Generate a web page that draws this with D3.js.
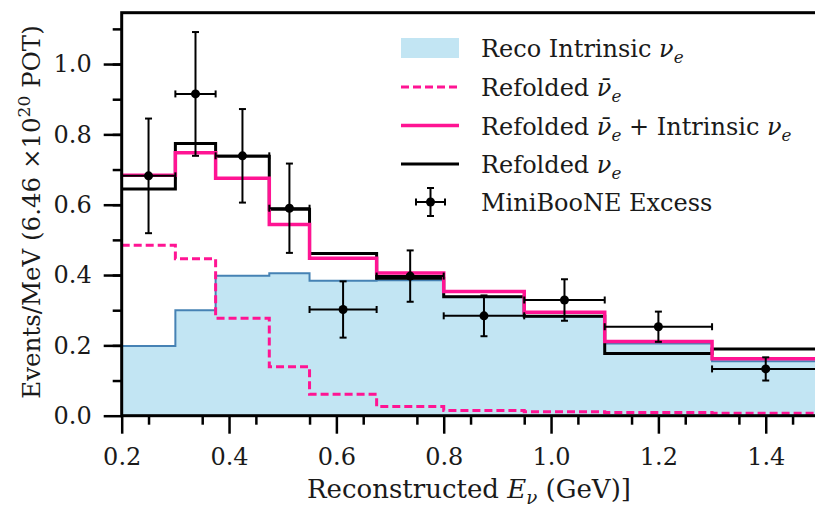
<!DOCTYPE html>
<html>
<head>
<meta charset="utf-8">
<script src="https://cdn.jsdelivr.net/npm/d3@7"></script>
<style>
body { margin: 0; background: #fff; }
svg { display: block; font-family: "DejaVu Serif", serif; }
</style>
</head>
<body>
<svg id="chart" width="815" height="511"></svg>
<script>
// bin edges in GeV (MiniBooNE binning)
var binEdges = [0.2, 0.3, 0.375, 0.475, 0.55, 0.675, 0.8, 0.95, 1.1, 1.3, 1.5];
var recoIntrinsic = [0.198, 0.300, 0.398, 0.405, 0.384, 0.385, 0.338, 0.282, 0.205, 0.155];
var refoldedNuebar = [0.485, 0.446, 0.277, 0.139, 0.061, 0.026, 0.015, 0.011, 0.009, 0.007];
var refoldedSum = [0.684, 0.748, 0.675, 0.544, 0.448, 0.406, 0.353, 0.294, 0.211, 0.162];
var refoldedNue = [0.645, 0.774, 0.738, 0.587, 0.461, 0.391, 0.338, 0.283, 0.177, 0.190];
var excessX = [0.25, 0.3375, 0.425, 0.5125, 0.6125, 0.7375, 0.875, 1.025, 1.2, 1.4];
var excessY = [0.682, 0.915, 0.739, 0.590, 0.302, 0.397, 0.284, 0.329, 0.253, 0.133];
var excessErr = [0.163, 0.176, 0.133, 0.127, 0.080, 0.073, 0.058, 0.059, 0.043, 0.033];
var xTicks = [0.2, 0.4, 0.6, 0.8, 1.0, 1.2, 1.4];
var yTicks = [0.0, 0.2, 0.4, 0.6, 0.8, 1.0];

var PINK = "#ff1493";
var FILL = "#c2e5f3";
var BLUE = "#4682b4";

var svg = d3.select("#chart");

var x = d3.scaleLinear().domain([0.2, 1.5]).range([121.7, 819.4]);
var y = d3.scaleLinear().domain([0, 1.146]).range([415.7, 12.7]);

// histogram helper: step points incl. closing edge
function steps(vals) {
    var pts = vals.map(function(v, i) { return [binEdges[i], v]; });
    pts.push([binEdges[binEdges.length - 1], vals[vals.length - 1]]);
    return pts;
}

var stepLine = d3.line()
    .x(function(d) { return x(d[0]); })
    .y(function(d) { return y(d[1]); })
    .curve(d3.curveStepAfter);

var stepArea = d3.area()
    .x(function(d) { return x(d[0]); })
    .y0(y(0))
    .y1(function(d) { return y(d[1]); })
    .curve(d3.curveStepAfter);

svg.append("path").attr("d", stepArea(steps(recoIntrinsic))).attr("fill", FILL);
svg.append("path").attr("d", stepLine(steps(recoIntrinsic)))
    .attr("fill", "none").attr("stroke", BLUE).attr("stroke-width", 2);
svg.append("path").attr("d", stepLine(steps(refoldedNuebar)))
    .attr("fill", "none").attr("stroke", PINK).attr("stroke-width", 3)
    .attr("stroke-dasharray", "8,4");
svg.append("path").attr("d", stepLine(steps(refoldedNue)))
    .attr("fill", "none").attr("stroke", "#000").attr("stroke-width", 3);
svg.append("path").attr("d", stepLine(steps(refoldedSum)))
    .attr("fill", "none").attr("stroke", PINK).attr("stroke-width", 3.5);

// data points with error bars
var pts = svg.append("g").attr("stroke", "#000").attr("stroke-width", 2);
excessX.forEach(function(xv, i) {
    var lo = binEdges[i], hi = binEdges[i + 1];
    var yv = excessY[i], e = excessErr[i];
    pts.append("line").attr("x1", x(lo)).attr("x2", x(hi)).attr("y1", y(yv)).attr("y2", y(yv));
    pts.append("line").attr("x1", x(lo)).attr("x2", x(lo)).attr("y1", y(yv) - 3.5).attr("y2", y(yv) + 3.5);
    pts.append("line").attr("x1", x(hi)).attr("x2", x(hi)).attr("y1", y(yv) - 3.5).attr("y2", y(yv) + 3.5);
    pts.append("line").attr("x1", x(xv)).attr("x2", x(xv)).attr("y1", y(yv - e)).attr("y2", y(yv + e));
    pts.append("line").attr("x1", x(xv) - 3.5).attr("x2", x(xv) + 3.5).attr("y1", y(yv - e)).attr("y2", y(yv - e));
    pts.append("line").attr("x1", x(xv) - 3.5).attr("x2", x(xv) + 3.5).attr("y1", y(yv + e)).attr("y2", y(yv + e));
    pts.append("circle").attr("cx", x(xv)).attr("cy", y(yv)).attr("r", 4.5).attr("fill", "#000").attr("stroke", "none");
});

// axes
var fmt = d3.format(".1f");
var xMajor = svg.append("g").attr("transform", "translate(0," + y(0) + ")")
    .call(d3.axisBottom(x).tickValues(xTicks).tickSize(18).tickPadding(14).tickFormat(fmt));
var xMinor = svg.append("g").attr("transform", "translate(0," + y(0) + ")")
    .call(d3.axisBottom(x).tickValues(d3.range(0.25, 1.5, 0.1)).tickSize(9).tickFormat(""));
var yMajor = svg.append("g").attr("transform", "translate(" + x(0.2) + ",0)")
    .call(d3.axisLeft(y).tickValues(yTicks).tickSize(18).tickPadding(12).tickFormat(fmt));
var yMinor = svg.append("g").attr("transform", "translate(" + x(0.2) + ",0)")
    .call(d3.axisLeft(y).tickValues(d3.range(0.1, 1.15, 0.1)).tickSize(9).tickFormat(""));

[xMajor, xMinor, yMajor, yMinor].forEach(function(g) {
    g.select(".domain").remove();
    g.selectAll(".tick line").attr("stroke", "#000").attr("stroke-width", 2.5);
    g.selectAll(".tick text").attr("font-family", "DejaVu Serif").attr("font-size", 24).attr("fill", "#1a1a1a");
});

// spines (right one falls outside the window)
svg.append("rect")
    .attr("x", x(0.2)).attr("y", y(1.146))
    .attr("width", x(1.5) - x(0.2)).attr("height", y(0) - y(1.146))
    .attr("fill", "none").attr("stroke", "#000").attr("stroke-width", 3);

// text with italic / sub / sup parts
function richText(sel, parts) {
    parts.forEach(function(p) {
        var ts = sel.append("tspan").text(p.t);
        if (p.it) ts.attr("font-style", "italic");
        if (p.sub) ts.attr("dy", 6).attr("font-size", "0.7em");
        if (p.sup) ts.attr("dy", -10).attr("font-size", "0.7em");
        if (p.back) ts.attr("dy", p.back);
    });
}

// axis labels
var xl = svg.append("text").attr("x", 469).attr("y", 498).attr("text-anchor", "middle")
    .attr("font-size", 26).attr("fill", "#1a1a1a");
richText(xl, [{t: "Reconstructed "}, {t: "E", it: true}, {t: "\u03bd", it: true, sub: true},
    {t: " (GeV)]", back: -6}]);

var yl = svg.append("text").attr("transform", "translate(40,212) rotate(-90)")
    .attr("text-anchor", "middle").attr("font-size", 24.5).attr("fill", "#1a1a1a");
richText(yl, [{t: "Events/MeV (6.46 \u00d710"}, {t: "20", sup: true}, {t: " POT)", back: 10}]);

// legend
var legendLabels = [
    [{t: "Reco Intrinsic "}, {t: "\u03bd", it: true}, {t: "e", it: true, sub: true}],
    [{t: "Refolded "}, {t: "\u03bd\u0304", it: true}, {t: "e", it: true, sub: true}],
    [{t: "Refolded "}, {t: "\u03bd\u0304", it: true}, {t: "e", it: true, sub: true},
        {t: " + Intrinsic ", back: -6}, {t: "\u03bd", it: true}, {t: "e", it: true, sub: true}],
    [{t: "Refolded "}, {t: "\u03bd", it: true}, {t: "e", it: true, sub: true}],
    [{t: "MiniBooNE Excess"}]
];
var legendY = [48, 87, 125.5, 164, 202];
var lg = svg.append("g");

lg.append("rect").attr("x", 401).attr("y", legendY[0] - 10).attr("width", 58).attr("height", 20).attr("fill", FILL);
lg.append("line").attr("x1", 401).attr("x2", 459).attr("y1", legendY[1]).attr("y2", legendY[1])
    .attr("stroke", PINK).attr("stroke-width", 3).attr("stroke-dasharray", "8,4");
lg.append("line").attr("x1", 401).attr("x2", 459).attr("y1", legendY[2]).attr("y2", legendY[2])
    .attr("stroke", PINK).attr("stroke-width", 3.5);
lg.append("line").attr("x1", 401).attr("x2", 459).attr("y1", legendY[3]).attr("y2", legendY[3])
    .attr("stroke", "#000").attr("stroke-width", 3);
var mk = lg.append("g").attr("stroke", "#000").attr("stroke-width", 2);
mk.append("line").attr("x1", 416).attr("x2", 445).attr("y1", legendY[4]).attr("y2", legendY[4]);
mk.append("line").attr("x1", 430.5).attr("x2", 430.5).attr("y1", legendY[4] - 14).attr("y2", legendY[4] + 14);
mk.append("line").attr("x1", 416).attr("x2", 416).attr("y1", legendY[4] - 3.5).attr("y2", legendY[4] + 3.5);
mk.append("line").attr("x1", 445).attr("x2", 445).attr("y1", legendY[4] - 3.5).attr("y2", legendY[4] + 3.5);
mk.append("line").attr("x1", 427).attr("x2", 434).attr("y1", legendY[4] - 14).attr("y2", legendY[4] - 14);
mk.append("line").attr("x1", 427).attr("x2", 434).attr("y1", legendY[4] + 14).attr("y2", legendY[4] + 14);
mk.append("circle").attr("cx", 430.5).attr("cy", legendY[4]).attr("r", 4.5).attr("fill", "#000").attr("stroke", "none");

legendLabels.forEach(function(parts, i) {
    var t = lg.append("text").attr("x", 481).attr("y", legendY[i] + 9)
        .attr("font-size", 24).attr("fill", "#1a1a1a");
    richText(t, parts);
});
</script>
</body>
</html>
